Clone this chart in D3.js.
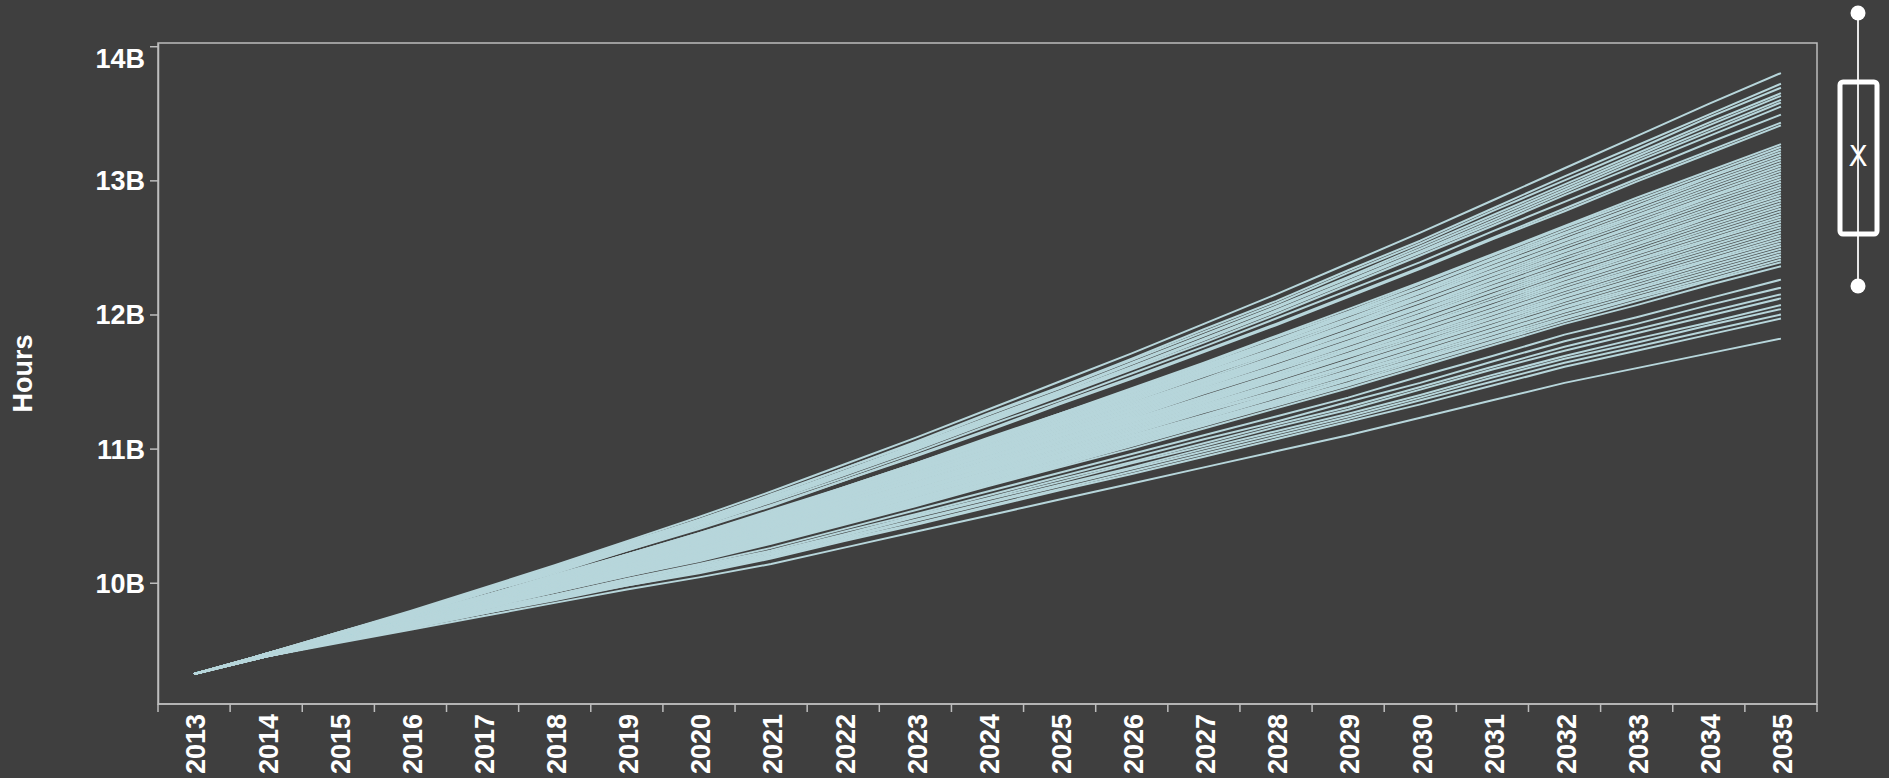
<!DOCTYPE html>
<html>
<head>
<meta charset="utf-8">
<script src="https://cdn.jsdelivr.net/npm/d3@7"></script>
<style>
  html, body { margin: 0; padding: 0; background: #3f3f3f; }
  svg { display: block; font-family: "Liberation Sans", Arial, sans-serif; }
</style>
</head>
<body>
<svg id="chart" width="1889" height="778"></svg>
<script>
// Years on the horizontal axis
const years = [2013,2014,2015,2016,2017,2018,2019,2020,2021,2022,2023,2024,2025,2026,2027,2028,2029,2030,2031,2032,2033,2034,2035];

// Projected hours (billions), one array per simulation run
const run01 = [9.32,9.47,9.63,9.79,9.96,10.13,10.31,10.49,10.68,10.88,11.08,11.29,11.50,11.71,11.93,12.15,12.38,12.61,12.85,13.09,13.33,13.57,13.80];
const run02 = [9.32,9.47,9.63,9.78,9.95,10.12,10.30,10.47,10.66,10.85,11.05,11.26,11.46,11.67,11.89,12.10,12.33,12.55,12.79,13.03,13.26,13.49,13.72];
const run03 = [9.32,9.47,9.63,9.78,9.95,10.11,10.29,10.47,10.65,10.85,11.04,11.25,11.45,11.66,11.87,12.08,12.31,12.53,12.77,13.00,13.23,13.47,13.69];
const run04 = [9.32,9.47,9.62,9.78,9.94,10.11,10.28,10.46,10.64,10.83,11.03,11.23,11.43,11.64,11.85,12.06,12.28,12.51,12.74,12.97,13.20,13.43,13.65];
const run05 = [9.32,9.47,9.62,9.78,9.94,10.11,10.28,10.45,10.63,10.83,11.02,11.22,11.42,11.63,11.84,12.05,12.27,12.49,12.72,12.95,13.18,13.41,13.63];
const run06 = [9.32,9.47,9.62,9.78,9.94,10.10,10.27,10.44,10.63,10.82,11.01,11.21,11.41,11.61,11.82,12.03,12.25,12.47,12.70,12.93,13.16,13.38,13.60];
const run07 = [9.32,9.47,9.62,9.77,9.94,10.10,10.27,10.44,10.62,10.81,11.00,11.20,11.40,11.60,11.81,12.02,12.24,12.46,12.68,12.91,13.14,13.36,13.58];
const run08 = [9.32,9.47,9.62,9.77,9.93,10.09,10.26,10.43,10.61,10.80,10.99,11.19,11.39,11.59,11.79,12.00,12.22,12.44,12.66,12.89,13.11,13.33,13.55];
const run09 = [9.32,9.47,9.62,9.77,9.93,10.09,10.25,10.42,10.60,10.78,10.97,11.17,11.36,11.56,11.76,11.97,12.18,12.39,12.62,12.84,13.06,13.28,13.49];
const run10 = [9.32,9.47,9.62,9.76,9.92,10.08,10.24,10.41,10.58,10.76,10.95,11.14,11.34,11.53,11.73,11.93,12.14,12.35,12.57,12.79,13.01,13.22,13.43];
const run11 = [9.32,9.47,9.61,9.76,9.92,10.07,10.24,10.40,10.57,10.76,10.94,11.13,11.33,11.52,11.72,11.92,12.13,12.34,12.56,12.77,12.99,13.20,13.41];
const run12 = [9.32,9.46,9.61,9.75,9.90,10.06,10.21,10.37,10.54,10.71,10.89,11.08,11.26,11.45,11.64,11.84,12.04,12.24,12.45,12.66,12.87,13.07,13.27];
const run13 = [9.32,9.46,9.61,9.75,9.90,10.05,10.21,10.37,10.53,10.71,10.89,11.07,11.26,11.44,11.63,11.83,12.02,12.23,12.44,12.65,12.85,13.05,13.25];
const run14 = [9.32,9.46,9.61,9.75,9.90,10.05,10.21,10.36,10.52,10.70,10.88,11.06,11.25,11.43,11.62,11.81,12.01,12.21,12.42,12.63,12.83,13.03,13.23];
const run15 = [9.32,9.46,9.61,9.75,9.90,10.05,10.20,10.36,10.52,10.70,10.87,11.05,11.24,11.42,11.61,11.80,12.00,12.20,12.41,12.61,12.81,13.02,13.21];
const run16 = [9.32,9.46,9.61,9.75,9.90,10.04,10.20,10.35,10.51,10.69,10.86,11.05,11.23,11.41,11.60,11.79,11.99,12.18,12.39,12.60,12.80,13.00,13.19];
const run17 = [9.32,9.46,9.60,9.75,9.89,10.04,10.20,10.35,10.51,10.68,10.86,11.04,11.22,11.40,11.59,11.78,11.97,12.17,12.38,12.58,12.78,12.98,13.17];
const run18 = [9.32,9.46,9.60,9.74,9.89,10.04,10.19,10.34,10.50,10.68,10.85,11.03,11.21,11.39,11.58,11.77,11.96,12.16,12.36,12.56,12.76,12.96,13.15];
const run19 = [9.32,9.46,9.60,9.74,9.89,10.04,10.19,10.34,10.50,10.67,10.84,11.02,11.20,11.38,11.57,11.75,11.95,12.14,12.35,12.55,12.74,12.94,13.13];
const run20 = [9.32,9.46,9.60,9.74,9.89,10.03,10.18,10.33,10.49,10.66,10.84,11.01,11.19,11.37,11.56,11.74,11.93,12.13,12.33,12.53,12.73,12.92,13.11];
const run21 = [9.32,9.46,9.60,9.74,9.88,10.03,10.18,10.33,10.49,10.66,10.83,11.01,11.18,11.36,11.55,11.73,11.92,12.12,12.32,12.52,12.71,12.90,13.09];
const run22 = [9.32,9.46,9.60,9.74,9.88,10.03,10.18,10.32,10.48,10.65,10.82,11.00,11.18,11.35,11.54,11.72,11.91,12.10,12.30,12.50,12.69,12.88,13.07];
const run23 = [9.32,9.46,9.60,9.74,9.88,10.02,10.17,10.32,10.48,10.65,10.81,10.99,11.17,11.34,11.52,11.71,11.90,12.09,12.29,12.48,12.67,12.87,13.05];
const run24 = [9.32,9.46,9.60,9.74,9.88,10.02,10.17,10.32,10.47,10.64,10.81,10.98,11.16,11.33,11.51,11.69,11.88,12.07,12.27,12.47,12.66,12.85,13.03];
const run25 = [9.32,9.46,9.60,9.73,9.88,10.02,10.17,10.31,10.46,10.63,10.80,10.97,11.15,11.32,11.50,11.68,11.87,12.06,12.26,12.45,12.64,12.83,13.01];
const run26 = [9.32,9.46,9.60,9.73,9.87,10.02,10.16,10.31,10.46,10.63,10.79,10.97,11.14,11.31,11.49,11.67,11.86,12.05,12.24,12.44,12.62,12.81,12.99];
const run27 = [9.32,9.46,9.60,9.73,9.87,10.01,10.16,10.30,10.45,10.62,10.79,10.96,11.13,11.30,11.48,11.66,11.84,12.03,12.23,12.42,12.60,12.79,12.97];
const run28 = [9.32,9.46,9.60,9.73,9.87,10.01,10.16,10.30,10.45,10.61,10.78,10.95,11.12,11.29,11.47,11.65,11.83,12.02,12.21,12.40,12.59,12.77,12.95];
const run29 = [9.32,9.46,9.59,9.73,9.87,10.01,10.15,10.29,10.44,10.61,10.77,10.94,11.11,11.28,11.46,11.64,11.82,12.00,12.20,12.39,12.57,12.75,12.93];
const run30 = [9.32,9.46,9.59,9.73,9.87,10.00,10.15,10.29,10.44,10.60,10.77,10.93,11.10,11.27,11.45,11.62,11.80,11.99,12.18,12.37,12.55,12.73,12.91];
const run31 = [9.32,9.46,9.59,9.73,9.86,10.00,10.14,10.28,10.43,10.60,10.76,10.93,11.10,11.26,11.44,11.61,11.79,11.98,12.17,12.35,12.53,12.72,12.89];
const run32 = [9.32,9.46,9.59,9.72,9.86,10.00,10.14,10.28,10.43,10.59,10.75,10.92,11.09,11.25,11.43,11.60,11.78,11.96,12.15,12.34,12.52,12.70,12.87];
const run33 = [9.32,9.46,9.59,9.72,9.86,10.00,10.14,10.27,10.42,10.58,10.74,10.91,11.08,11.24,11.42,11.59,11.77,11.95,12.14,12.32,12.50,12.68,12.85];
const run34 = [9.32,9.46,9.59,9.72,9.86,9.99,10.13,10.27,10.42,10.58,10.74,10.90,11.07,11.23,11.41,11.58,11.75,11.93,12.12,12.31,12.48,12.66,12.83];
const run35 = [9.32,9.46,9.59,9.72,9.86,9.99,10.13,10.26,10.41,10.57,10.73,10.89,11.06,11.22,11.39,11.56,11.74,11.92,12.10,12.29,12.46,12.64,12.81];
const run36 = [9.32,9.46,9.59,9.72,9.85,9.99,10.13,10.26,10.40,10.56,10.72,10.89,11.05,11.22,11.38,11.55,11.73,11.91,12.09,12.27,12.45,12.62,12.79];
const run37 = [9.32,9.46,9.59,9.72,9.85,9.98,10.12,10.26,10.40,10.56,10.72,10.88,11.04,11.21,11.37,11.54,11.71,11.89,12.07,12.26,12.43,12.60,12.77];
const run38 = [9.32,9.46,9.59,9.72,9.85,9.98,10.12,10.25,10.39,10.55,10.71,10.87,11.03,11.20,11.36,11.53,11.70,11.88,12.06,12.24,12.41,12.58,12.75];
const run39 = [9.32,9.46,9.59,9.71,9.85,9.98,10.12,10.25,10.39,10.54,10.70,10.86,11.02,11.19,11.35,11.52,11.69,11.86,12.04,12.23,12.40,12.56,12.73];
const run40 = [9.32,9.46,9.59,9.71,9.84,9.98,10.11,10.24,10.38,10.54,10.69,10.86,11.02,11.18,11.34,11.51,11.68,11.85,12.03,12.21,12.38,12.55,12.71];
const run41 = [9.32,9.46,9.59,9.71,9.84,9.97,10.11,10.24,10.38,10.53,10.69,10.85,11.01,11.17,11.33,11.49,11.66,11.84,12.01,12.19,12.36,12.53,12.69];
const run42 = [9.32,9.46,9.58,9.71,9.84,9.97,10.10,10.23,10.37,10.53,10.68,10.84,11.00,11.16,11.32,11.48,11.65,11.82,12.00,12.18,12.34,12.51,12.67];
const run43 = [9.32,9.46,9.58,9.71,9.84,9.97,10.10,10.23,10.37,10.52,10.67,10.83,10.99,11.15,11.31,11.47,11.64,11.81,11.98,12.16,12.33,12.49,12.65];
const run44 = [9.32,9.46,9.58,9.71,9.84,9.96,10.10,10.22,10.36,10.51,10.67,10.82,10.98,11.14,11.30,11.46,11.62,11.79,11.97,12.14,12.31,12.47,12.63];
const run45 = [9.32,9.46,9.58,9.71,9.83,9.96,10.09,10.22,10.36,10.51,10.66,10.82,10.97,11.13,11.29,11.45,11.61,11.78,11.95,12.13,12.29,12.45,12.61];
const run46 = [9.32,9.46,9.58,9.70,9.83,9.96,10.09,10.22,10.35,10.50,10.65,10.81,10.96,11.12,11.28,11.43,11.60,11.77,11.94,12.11,12.27,12.43,12.59];
const run47 = [9.32,9.46,9.58,9.70,9.83,9.96,10.09,10.21,10.34,10.49,10.65,10.80,10.95,11.11,11.27,11.42,11.58,11.75,11.92,12.10,12.26,12.41,12.57];
const run48 = [9.32,9.46,9.58,9.70,9.83,9.95,10.08,10.21,10.34,10.49,10.64,10.79,10.94,11.10,11.25,11.41,11.57,11.74,11.91,12.08,12.24,12.40,12.55];
const run49 = [9.32,9.46,9.58,9.70,9.83,9.95,10.08,10.20,10.33,10.48,10.63,10.78,10.94,11.09,11.24,11.40,11.56,11.72,11.89,12.06,12.22,12.38,12.53];
const run50 = [9.32,9.46,9.58,9.70,9.82,9.95,10.08,10.20,10.33,10.48,10.62,10.78,10.93,11.08,11.23,11.39,11.55,11.71,11.88,12.05,12.20,12.36,12.51];
const run51 = [9.32,9.46,9.58,9.70,9.82,9.94,10.07,10.19,10.32,10.47,10.62,10.77,10.92,11.07,11.22,11.38,11.53,11.70,11.86,12.03,12.19,12.34,12.49];
const run52 = [9.32,9.46,9.58,9.70,9.82,9.94,10.07,10.19,10.32,10.46,10.61,10.76,10.91,11.06,11.21,11.36,11.52,11.68,11.85,12.02,12.17,12.32,12.47];
const run53 = [9.32,9.46,9.58,9.69,9.82,9.94,10.06,10.18,10.31,10.46,10.60,10.75,10.90,11.05,11.20,11.35,11.51,11.67,11.83,12.00,12.15,12.30,12.45];
const run54 = [9.32,9.46,9.57,9.69,9.81,9.94,10.06,10.18,10.31,10.45,10.60,10.74,10.89,11.04,11.19,11.34,11.49,11.66,11.82,11.98,12.13,12.28,12.43];
const run55 = [9.32,9.46,9.57,9.69,9.81,9.93,10.06,10.17,10.30,10.44,10.59,10.74,10.88,11.03,11.18,11.33,11.48,11.64,11.80,11.97,12.12,12.26,12.41];
const run56 = [9.32,9.46,9.57,9.69,9.81,9.93,10.05,10.17,10.30,10.44,10.58,10.73,10.87,11.02,11.17,11.32,11.47,11.63,11.79,11.95,12.10,12.25,12.39];
const run57 = [9.32,9.46,9.57,9.69,9.81,9.93,10.05,10.16,10.29,10.43,10.57,10.72,10.86,11.00,11.15,11.30,11.45,11.61,11.77,11.93,12.07,12.22,12.36];
const run58 = [9.32,9.45,9.57,9.68,9.80,9.91,10.03,10.14,10.26,10.40,10.54,10.68,10.82,10.96,11.10,11.24,11.38,11.54,11.69,11.85,11.98,12.12,12.26];
const run59 = [9.32,9.45,9.57,9.68,9.79,9.90,10.02,10.13,10.24,10.38,10.51,10.65,10.79,10.93,11.07,11.20,11.35,11.49,11.65,11.80,11.93,12.07,12.20];
const run60 = [9.32,9.45,9.56,9.67,9.78,9.90,10.01,10.12,10.23,10.36,10.50,10.63,10.77,10.90,11.04,11.18,11.31,11.46,11.61,11.76,11.89,12.02,12.15];
const run61 = [9.32,9.45,9.56,9.67,9.78,9.89,10.00,10.11,10.22,10.35,10.49,10.62,10.75,10.89,11.02,11.16,11.29,11.44,11.59,11.73,11.86,11.99,12.12];
const run62 = [9.32,9.45,9.56,9.67,9.78,9.89,10.00,10.10,10.21,10.34,10.47,10.60,10.73,10.86,11.00,11.13,11.26,11.40,11.55,11.69,11.82,11.94,12.07];
const run63 = [9.32,9.45,9.56,9.67,9.77,9.88,9.99,10.09,10.20,10.33,10.46,10.59,10.72,10.85,10.98,11.11,11.24,11.38,11.53,11.67,11.79,11.92,12.04];
const run64 = [9.32,9.45,9.56,9.66,9.77,9.88,9.98,10.08,10.19,10.32,10.44,10.57,10.70,10.83,10.96,11.09,11.22,11.36,11.50,11.64,11.76,11.88,12.00];
const run65 = [9.32,9.45,9.56,9.66,9.77,9.87,9.98,10.07,10.18,10.31,10.43,10.56,10.69,10.81,10.94,11.07,11.20,11.33,11.47,11.61,11.73,11.85,11.97];
const run66 = [9.32,9.45,9.55,9.65,9.75,9.85,9.95,10.04,10.14,10.26,10.38,10.50,10.62,10.74,10.86,10.98,11.10,11.23,11.36,11.49,11.60,11.71,11.82];

const runs = [run01,run02,run03,run04,run05,run06,run07,run08,run09,run10,run11,run12,run13,run14,run15,run16,run17,run18,run19,run20,run21,run22,
  run23,run24,run25,run26,run27,run28,run29,run30,run31,run32,run33,run34,run35,run36,run37,run38,run39,run40,run41,run42,run43,run44,
  run45,run46,run47,run48,run49,run50,run51,run52,run53,run54,run55,run56,run57,run58,run59,run60,run61,run62,run63,run64,run65,run66];

// Vertical tick values (billions of hours)
const hourTicks = [10, 11, 12, 13, 14];

const svg = d3.select("#chart");
const plot = { left: 158, right: 1817, top: 43, bottom: 704 };
const axisColor = "#bdbdbd";
const lineColor = "#b7d6db";

// Scales
const x = d3.scaleBand().domain(years).range([plot.left, plot.right]).padding(0);
const all = runs.flat();
const lo = d3.min(all), hi = d3.max(all);
const pad = (hi - lo) * 0.05;
const y = d3.scaleLinear().domain([lo - pad, hi + pad]).range([plot.bottom, plot.top]);

// Frame around the plotting area
svg.append("rect")
  .attr("x", plot.left).attr("y", plot.top)
  .attr("width", plot.right - plot.left).attr("height", plot.bottom - plot.top)
  .attr("fill", "none").attr("stroke", axisColor).attr("stroke-width", 1.5);

// Simulation runs
const line = d3.line()
  .x((d, i) => x(years[i]) + x.bandwidth() / 2)
  .y(d => y(d));

svg.append("g")
  .selectAll("path")
  .data(runs)
  .join("path")
  .attr("d", line)
  .attr("fill", "none")
  .attr("stroke", lineColor)
  .attr("stroke-width", 2)
  .attr("stroke-linejoin", "round");

// Left axis
const yAxis = svg.append("g")
  .attr("transform", `translate(${plot.left},0)`)
  .call(d3.axisLeft(y).tickValues(hourTicks).tickSize(8).tickSizeOuter(0).tickPadding(5)
    .tickFormat(d => d + "B"));
yAxis.select(".domain").attr("stroke", axisColor).attr("stroke-width", 1.5);
yAxis.selectAll(".tick line").attr("stroke", axisColor).attr("stroke-width", 1.5);
yAxis.selectAll(".tick text")
  .attr("fill", "#ffffff").attr("font-size", 27).attr("font-weight", "bold")
  .attr("font-family", "Liberation Sans, Arial, sans-serif")
  .attr("dy", d => d === d3.max(hourTicks) ? "0.8em" : "0.35em");

// Bottom axis: ticks on band edges, labels on band centres
const xAxis = svg.append("g");
xAxis.append("line")
  .attr("x1", plot.left).attr("x2", plot.right)
  .attr("y1", plot.bottom).attr("y2", plot.bottom)
  .attr("stroke", axisColor).attr("stroke-width", 1.5);
const edges = years.map(yr => x(yr)).concat([plot.right]);
xAxis.selectAll("line.tick")
  .data(edges)
  .join("line")
  .attr("class", "tick")
  .attr("x1", d => d).attr("x2", d => d)
  .attr("y1", plot.bottom).attr("y2", plot.bottom + 8)
  .attr("stroke", axisColor).attr("stroke-width", 1.5);
xAxis.selectAll("text")
  .data(years)
  .join("text")
  .attr("transform", d => `translate(${x(d) + x.bandwidth() / 2},${plot.bottom + 10}) rotate(-90)`)
  .attr("text-anchor", "end")
  .attr("dy", "0.42em")
  .attr("fill", "#ffffff")
  .attr("font-size", 27)
  .attr("font-weight", "bold")
  .text(d => d);

// Axis title
svg.append("text")
  .attr("transform", `translate(23,${(plot.top + plot.bottom) / 2}) rotate(-90)`)
  .attr("text-anchor", "middle")
  .attr("dy", "0.35em")
  .attr("fill", "#ffffff")
  .attr("font-size", 27)
  .attr("font-weight", "bold")
  .text("Hours");

// Range slider on the right
const slider = svg.append("g");
const sx = 1858;
slider.append("line")
  .attr("x1", sx).attr("x2", sx).attr("y1", 13).attr("y2", 286)
  .attr("stroke", "#e6e6e6").attr("stroke-width", 2);
slider.append("circle").attr("cx", sx).attr("cy", 13).attr("r", 7.5).attr("fill", "#ffffff");
slider.append("circle").attr("cx", sx).attr("cy", 286).attr("r", 7.5).attr("fill", "#ffffff");
slider.append("rect")
  .attr("x", 1840).attr("y", 82).attr("width", 37).attr("height", 152)
  .attr("rx", 3)
  .attr("fill", "none").attr("stroke", "#ffffff").attr("stroke-width", 5);
slider.append("text")
  .attr("x", sx).attr("y", 156)
  .attr("text-anchor", "middle").attr("dy", "0.36em")
  .attr("fill", "#ffffff").attr("font-size", 28)
  .attr("font-family", "DejaVu Sans, sans-serif")
  .text("X");
</script>
</body>
</html>
